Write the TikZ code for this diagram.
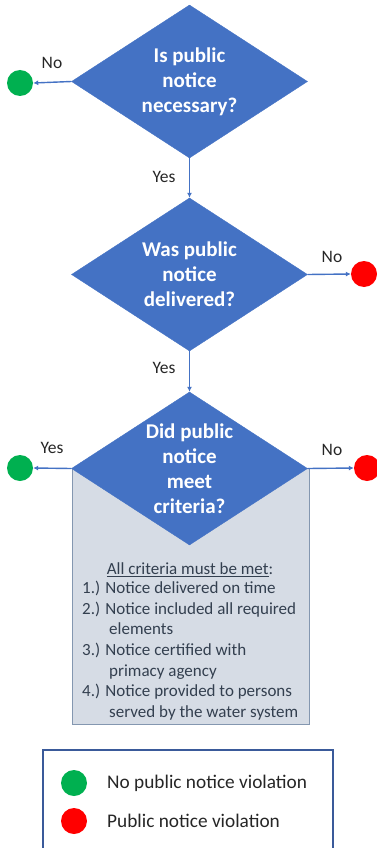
\documentclass[tikz,border=0pt]{standalone}
\usepackage{fontspec}
\setmainfont{Carlito}
\usetikzlibrary{shapes.geometric,arrows.meta}
\definecolor{dblue}{HTML}{4472C4}
\definecolor{boxfill}{HTML}{D6DCE5}
\definecolor{boxborder}{HTML}{8497B0}
\definecolor{legborder}{HTML}{3A5A9A}
\definecolor{okgreen}{HTML}{00B050}
\definecolor{badred}{HTML}{FF0000}
\definecolor{boxtext}{HTML}{333F4F}
\begin{document}
\begin{tikzpicture}[x=1pt,y=-1pt,
  decision/.style={diamond, fill=dblue, draw=dblue, inner sep=0pt,
    minimum width=236pt, minimum height=153pt, aspect=1.54, text=white,
    font=\bfseries\fontsize{21}{25}\selectfont, align=center},
  arr/.style={draw=dblue, line width=1.4pt, -{Latex[length=5pt,width=5pt]}},
  dot/.style={circle, inner sep=0pt, minimum size=26pt},
  lbl/.style={font=\fontsize{17.5}{20}\selectfont, text=black!85, inner sep=0pt},
  crittext/.style={font=\fontsize{17}{20.6}\selectfont, text=boxtext, inner sep=0pt},
  legtext/.style={font=\fontsize{19.3}{22}\selectfont, text=black!85, inner sep=0pt, anchor=west}]
\useasboundingbox (0,0) rectangle (377,848);
% criteria box
\node[draw=boxborder, fill=boxfill, line width=1pt, minimum width=237pt,
  minimum height=256pt, inner sep=0pt] (crit) at (190.5,596) {};
% decisions
\node[decision] (d1) at (189.5,81.5) {Is public\\notice\\necessary?};
\node[decision] (d2) at (189.5,274.5) {Was public\\notice\\delivered?};
\node[decision] (d3) at (189.5,468.5) {Did public\\notice\\meet\\criteria?};
% outcome dots
\node[dot, fill=okgreen] (g1) at (20,83) {};
\node[dot, fill=badred] (r2) at (364,274) {};
\node[dot, fill=okgreen] (g3) at (20,468) {};
\node[dot, fill=badred] (r3) at (367,468) {};
% connectors
\draw[arr] (d1.west) -- (g1.east);
\draw[arr] (d1.south) -- (d2.north);
\draw[arr] (d2.east) -- (r2.west);
\draw[arr] (d2.south) -- (d3.north);
\draw[arr] (d3.west) -- (g3.east);
\draw[arr] (d3.east) -- (r3.west);
% labels
\node[lbl] (l1) at (52,63) {No};
\node[lbl] (l2) at (164,177) {Yes};
\node[lbl] (l3) at (332,257) {No};
\node[lbl] (l4) at (164,368) {Yes};
\node[lbl] (l5) at (52,448) {Yes};
\node[lbl] (l6) at (332,450) {No};
% criteria text
\node[crittext] (ctitle) at (190,570) {\underline{All criteria must be met}:};
\node[crittext, anchor=north west, align=left] (clist) at (82,581)
  {1.) Notice delivered on time\\
   2.) Notice included all required\\
   \hspace*{27pt}elements\\
   3.) Notice certified with\\
   \hspace*{27pt}primacy agency\\
   4.) Notice provided to persons\\
   \hspace*{27pt}served by the water system};
% legend
\node[draw=legborder, line width=2pt, minimum width=290pt, minimum height=110pt,
  inner sep=0pt] (legend) at (188,805) {};
\node[dot, fill=okgreen] (lg) at (74,783) {};
\node[dot, fill=badred] (lr) at (74,821) {};
\node[legtext] (lgt) at (107,783) {No public notice violation};
\node[legtext] (lrt) at (107,821) {Public notice violation};
\end{tikzpicture}
\end{document}
